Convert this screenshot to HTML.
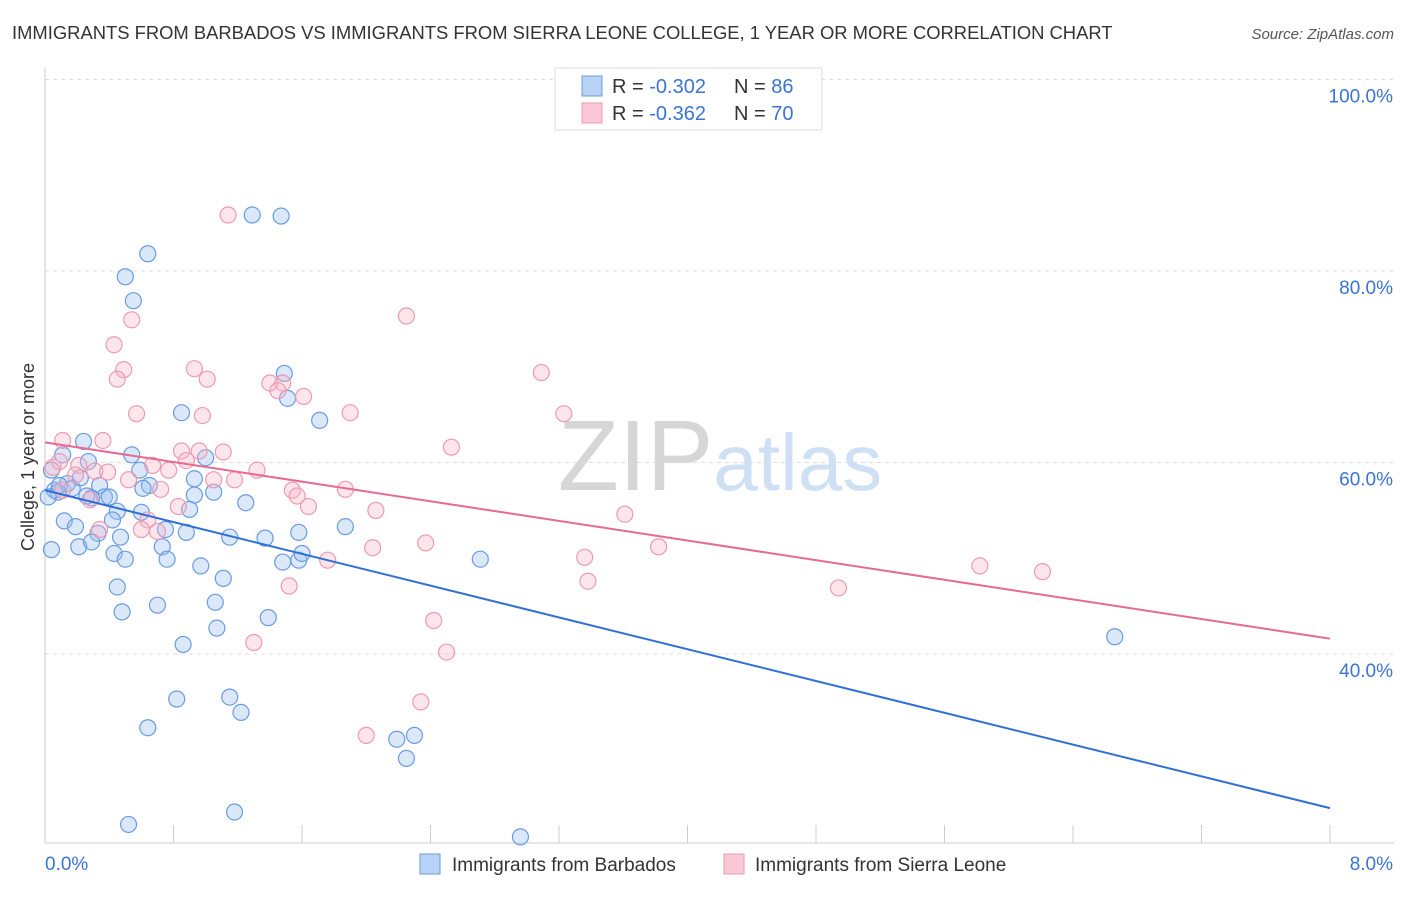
<!DOCTYPE html>
<html><head><meta charset="utf-8"><style>
body{margin:0;background:#fff;font-family:"Liberation Sans",sans-serif;}
svg text{font-family:"Liberation Sans",sans-serif;}
</style></head><body>
<svg id="chart" width="1406" height="892" xmlns="http://www.w3.org/2000/svg">
<text x="12" y="39" font-size="18.4" fill="#333">IMMIGRANTS FROM BARBADOS VS IMMIGRANTS FROM SIERRA LEONE COLLEGE, 1 YEAR OR MORE CORRELATION CHART</text>
<text x="1394" y="39" font-size="15" fill="#555" text-anchor="end" font-style="italic">Source: ZipAtlas.com</text>
<text x="720" y="490" font-size="100" fill="#ddd" text-anchor="middle" font-family="Liberation Serif"><tspan fill="#d6d6d6">ZIP</tspan><tspan fill="#cfe0f5" font-family="Liberation Sans" font-size="80">atlas</tspan></text>
<g id="grid"></g>
<g id="axes"></g>
<g id="marks"></g>
<text transform="translate(34,457) rotate(-90)" font-size="18" fill="#333" text-anchor="middle">College, 1 year or more</text>
<g>
<rect x="555" y="68" width="267" height="62" fill="#fff" stroke="#ddd"/>
<rect x="582" y="76" width="20" height="20" fill="#b8d3f5" stroke="#6a9be0"/>
<rect x="582" y="103" width="20" height="20" fill="#fac8d6" stroke="#ec9ab2"/>
<text x="612" y="93" font-size="20" fill="#333">R = <tspan fill="#3a74d4">-0.302</tspan></text>
<text x="734" y="93" font-size="20" fill="#333">N = <tspan fill="#3a74d4">86</tspan></text>
<text x="612" y="120" font-size="20" fill="#333">R = <tspan fill="#3a74d4">-0.362</tspan></text>
<text x="734" y="120" font-size="20" fill="#333">N = <tspan fill="#3a74d4">70</tspan></text>
</g>
<g>
<rect x="420" y="854" width="20" height="20" fill="#b8d3f5" stroke="#6a9be0"/>
<text x="452" y="871" font-size="19" fill="#333">Immigrants from Barbados</text>
<rect x="724" y="854" width="20" height="20" fill="#fac8d6" stroke="#ec9ab2"/>
<text x="755" y="871" font-size="19" fill="#333">Immigrants from Sierra Leone</text>
</g>
</svg>
<script>
const yTicks=[40,60,80,100];
const yTickLabels=["40.0%","60.0%","80.0%","100.0%"];
const xTicks=[0,0.8,1.6,2.4,3.2,4,4.8,5.6,6.4,7.2,8];
const blueX=[1.29,1.47,0.64,0.50,0.55,1.49,1.51,0.85,1.71,0.24,0.11,0.54,0.27,1.00,0.59,0.04,0.14,0.65,0.93,0.06,0.17,0.34,0.08,0.37,0.29,0.26,0.93,1.05,1.25,0.45,0.60,0.90,1.87,0.12,0.19,0.42,0.33,0.47,0.75,0.88,1.15,1.37,1.58,0.04,0.21,0.29,0.73,0.43,0.50,0.76,0.97,1.48,1.58,1.60,2.71,1.11,0.45,1.06,0.70,0.48,1.07,1.39,0.86,6.66,0.82,1.15,1.22,0.64,2.19,2.30,2.25,1.18,0.52,2.96,0.09,0.22,0.02,0.40,0.61];
const blueY=[85.85,85.74,81.8,79.4,76.9,69.3,66.7,65.2,64.4,62.2,60.8,60.8,60.1,60.5,59.2,59.2,57.8,57.6,58.3,57.1,57.3,57.6,56.9,56.4,56.3,56.5,56.6,56.9,55.8,54.9,54.8,55.1,53.3,53.9,53.3,54.0,52.6,52.2,53.0,52.7,52.2,52.1,52.7,50.9,51.2,51.7,51.2,50.5,49.9,49.9,49.2,49.6,49.8,50.5,49.9,47.9,47.0,45.4,45.1,44.4,42.7,43.8,41.0,41.8,35.3,35.5,33.9,32.3,31.1,31.5,29.1,23.5,22.2,20.9,57.6,58.4,56.4,56.4,57.3];
const pinkX=[1.14,2.25,0.54,0.43,0.49,0.45,0.93,1.01,1.40,1.48,1.61,1.45,0.57,0.98,1.90,3.09,3.23,2.53,0.11,0.36,0.85,0.96,1.11,0.88,0.67,0.77,1.32,0.09,0.21,0.31,0.39,0.05,0.19,0.52,1.05,1.18,0.72,1.54,1.57,1.87,0.11,0.28,0.83,1.64,2.06,3.61,0.64,0.34,0.60,0.70,2.37,2.04,3.82,3.36,1.76,1.52,3.38,4.94,5.82,6.21,2.42,1.30,2.50,2.34,2.00];
const pinkY=[85.85,75.3,74.9,72.3,69.7,68.7,69.8,68.7,68.3,68.3,66.9,67.5,65.1,64.9,65.2,69.4,65.1,61.6,62.3,62.3,61.2,61.2,61.1,60.2,59.7,59.2,59.2,60.1,59.7,59.1,59.0,59.5,58.7,58.2,58.2,58.2,57.2,57.1,56.5,57.2,57.1,56.1,55.4,55.4,55.0,54.6,54.0,53.0,53.0,52.8,51.6,51.1,51.2,50.1,49.8,47.1,47.6,46.9,49.2,48.6,43.5,41.2,40.2,35.0,31.5];
const blueTrend=[57.1,23.9];
const pinkTrend=[62.1,41.6];
const NS="http://www.w3.org/2000/svg";
const xs=v=>45+v/8*1285, ys=v=>79.5+(100-v)*9.575;
function mk(t,a,p){const e=document.createElementNS(NS,t);for(const k in a)e.setAttribute(k,a[k]);p.appendChild(e);return e;}
const grid=document.getElementById('grid'),axes=document.getElementById('axes'),marks=document.getElementById('marks');
yTicks.forEach((t,i)=>{
 const l=mk('line',{x1:45,x2:1394,y1:ys(t),y2:ys(t),stroke:'#ddd','stroke-dasharray':'4,4'},grid);
 
 
 const tx=mk('text',{x:1393,y:ys(t)+23,'font-size':19,fill:'#3a74d4','text-anchor':'end'},axes);
 tx.textContent=yTickLabels[i];
 
 
});
const ax=mk('line',{x1:45,x2:45,y1:68,y2:843,stroke:'#ccc'},axes);


const bx=mk('line',{x1:45,x2:1394,y1:843,y2:843,stroke:'#ccc'},axes);


xTicks.forEach(t=>{const l=mk('line',{x1:xs(t),x2:xs(t),y1:825,y2:843,stroke:'#ccc'},axes);
 
 });
[[0,'0.0%','start',45],[8,'8.0%','end',1393]].forEach(a=>{const t=mk('text',{x:a[3],y:870,'font-size':19,fill:'#3a74d4','text-anchor':a[2]},axes);t.textContent=a[1];
 
 });
function pts(X,Y,fill,stroke,name){X.forEach((x,i)=>{const c=mk('circle',{cx:xs(x),cy:ys(Y[i]),r:8,fill:fill,stroke:stroke,'stroke-width':1.2},marks);
 
 });}
pts(blueX,blueY,'rgba(150,190,240,0.35)','#6a9be0','barbados-point');
pts(pinkX,pinkY,'rgba(248,180,200,0.35)','#ec9ab2','sierra-leone-point');
const bl=mk('line',{x1:xs(0),y1:ys(blueTrend[0]),x2:xs(8),y2:ys(blueTrend[1]),stroke:'#2f6fd8','stroke-width':2},marks);


const pl=mk('line',{x1:xs(0),y1:ys(pinkTrend[0]),x2:xs(8),y2:ys(pinkTrend[1]),stroke:'#e66a92','stroke-width':2},marks);


</script>
</body></html>
